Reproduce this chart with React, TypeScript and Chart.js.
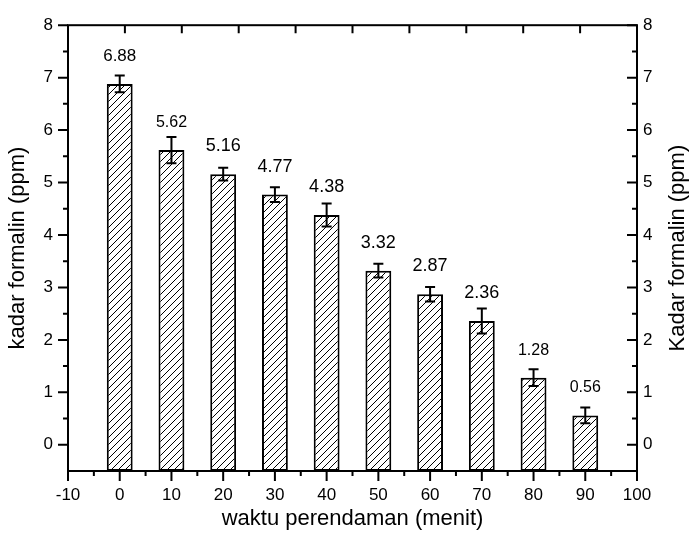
import { useEffect, useRef } from 'react';
import { Chart, registerables } from 'chart.js';

Chart.register(...registerables);

// ---- data ----
const times = [0, 10, 20, 30, 40, 50, 60, 70, 80, 90];
const kadar = [6.88, 5.62, 5.16, 4.77, 4.38, 3.32, 2.87, 2.36, 1.28, 0.56];
const errors = [0.16, 0.25, 0.12, 0.14, 0.22, 0.13, 0.14, 0.24, 0.16, 0.15];
const valueLabels = ['6.88', '5.62', '5.16', '4.77', '4.38', '3.32', '2.87', '2.36', '1.28', '0.56'];
const labelSizes = [17, 16, 18, 18, 18, 18, 18, 18, 16, 16];
const xTicks = [-10, 0, 10, 20, 30, 40, 50, 60, 70, 80, 90, 100];
const xMinorTicks = [-5, 5, 15, 25, 35, 45, 55, 65, 75, 85, 95];
const yTicks = [0, 1, 2, 3, 4, 5, 6, 7, 8];
const yMinorTicks = [0.5, 1.5, 2.5, 3.5, 4.5, 5.5, 6.5, 7.5];
const topTicks = [0, 1, 2, 3, 4, 5, 6, 7, 8, 9, 10];

const X_MIN = -10;
const X_MAX = 100;
const Y_MIN = -0.5;
const Y_MAX = 8;
const LABEL_OFFSET = 0.44;

const FONT = "'Liberation Sans', Arial, sans-serif";
const TITLE_SIZE = 22;
const xTitle = 'waktu perendaman (menit)';
const yTitle = 'kadar formalin (ppm)';
const y2Title = 'Kadar formalin (ppm)';

function makeHatch(): CanvasPattern | string {
  const s = 7;
  const c = document.createElement('canvas');
  c.width = s;
  c.height = s;
  const g = c.getContext('2d');
  if (!g) return '#fff';
  g.fillStyle = '#fff';
  g.fillRect(0, 0, s, s);
  g.strokeStyle = '#000';
  g.lineWidth = 1;
  g.beginPath();
  g.moveTo(0, s);
  g.lineTo(s, 0);
  g.moveTo(-1, 1);
  g.lineTo(1, -1);
  g.moveTo(s - 1, s + 1);
  g.lineTo(s + 1, s - 1);
  g.stroke();
  const p = g.createPattern(c, 'repeat');
  return p || '#fff';
}

const decorPlugin = {
  id: 'decor',
  afterDatasetsDraw(chart: any) {
    const { ctx, chartArea: a, scales } = chart;
    const xs = scales.x;
    const ys = scales.y;
    const x2 = scales.x2;
    ctx.save();
    ctx.strokeStyle = '#000';
    ctx.fillStyle = '#000';
    ctx.lineWidth = 2;

    // error bars
    times.forEach((t, i) => {
      const px = xs.getPixelForValue(t);
      const top = ys.getPixelForValue(kadar[i] + errors[i]);
      const bot = ys.getPixelForValue(kadar[i] - errors[i]);
      ctx.beginPath();
      ctx.moveTo(px, top);
      ctx.lineTo(px, bot);
      ctx.moveTo(px - 5, top);
      ctx.lineTo(px + 5, top);
      ctx.moveTo(px - 5, bot);
      ctx.lineTo(px + 5, bot);
      ctx.stroke();
    });

    // value labels
    ctx.textAlign = 'center';
    ctx.textBaseline = 'alphabetic';
    times.forEach((t, i) => {
      ctx.font = `${labelSizes[i]}px ${FONT}`;
      ctx.fillText(valueLabels[i], xs.getPixelForValue(t), ys.getPixelForValue(kadar[i] + LABEL_OFFSET));
    });

    // frame
    ctx.strokeRect(a.left, a.top, a.right - a.left, a.bottom - a.top);

    ctx.beginPath();
    // left (outward) and right (inward) ticks
    yTicks.forEach((v) => {
      const py = ys.getPixelForValue(v);
      ctx.moveTo(a.left - 10, py);
      ctx.lineTo(a.left, py);
      ctx.moveTo(a.right - 10, py);
      ctx.lineTo(a.right, py);
    });
    yMinorTicks.forEach((v) => {
      const py = ys.getPixelForValue(v);
      ctx.moveTo(a.left - 5, py);
      ctx.lineTo(a.left, py);
      ctx.moveTo(a.right - 5, py);
      ctx.lineTo(a.right, py);
    });
    // bottom ticks (outward)
    xTicks.forEach((v) => {
      const px = xs.getPixelForValue(v);
      ctx.moveTo(px, a.bottom);
      ctx.lineTo(px, a.bottom + 10);
    });
    xMinorTicks.forEach((v) => {
      const px = xs.getPixelForValue(v);
      ctx.moveTo(px, a.bottom);
      ctx.lineTo(px, a.bottom + 5);
    });
    // top ticks (inward)
    topTicks.forEach((v) => {
      const px = x2.getPixelForValue(v);
      ctx.moveTo(px, a.top);
      ctx.lineTo(px, a.top + 8);
    });
    ctx.stroke();

    // right axis title, reading bottom to top
    const y2 = scales.y2;
    ctx.font = `${TITLE_SIZE}px ${FONT}`;
    ctx.textAlign = 'center';
    ctx.textBaseline = 'middle';
    ctx.translate(y2.right - 11, (a.top + a.bottom) / 2);
    ctx.rotate(-Math.PI / 2);
    ctx.fillText(y2Title, 0, 0);
    ctx.restore();
  },
};

export default function App() {
  const ref = useRef<HTMLCanvasElement | null>(null);

  useEffect(() => {
    document.body.style.margin = '0';
    const canvas = ref.current;
    if (!canvas) return;
    const hatch = makeHatch();
    const tickFont = { family: FONT, size: 17 };
    const chart = new Chart(canvas, {
      type: 'bar',
      data: {
        datasets: [
          {
            data: times.map((t, i) => ({ x: t, y: kadar[i] })),
            backgroundColor: hatch as any,
            borderColor: '#000',
            borderWidth: 2,
            borderSkipped: false,
            barPercentage: 0.5,
            categoryPercentage: 1,
            base: Y_MIN,
          } as any,
        ],
      },
      options: {
        responsive: false,
        animation: false,
        events: [],
        layout: { padding: 0 },
        plugins: { legend: { display: false }, tooltip: { enabled: false } },
        scales: {
          x: {
            type: 'linear',
            position: 'bottom',
            min: X_MIN,
            max: X_MAX,
            offset: false,
            grid: { display: false, drawTicks: false, tickLength: 0, offset: false },
            border: { display: false },
            afterBuildTicks: (s: any) => {
              s.ticks = xTicks.map((v) => ({ value: v }));
            },
            afterFit: (s: any) => {
              s.height = 68;
            },
            ticks: { color: '#000', font: tickFont, padding: 14, maxRotation: 0, autoSkip: false },
            title: {
              display: true,
              text: xTitle,
              color: '#000',
              font: { family: FONT, size: TITLE_SIZE },
              padding: { top: 0, bottom: 7 },
            },
          },
          x2: {
            type: 'linear',
            position: 'top',
            min: 0,
            max: 10,
            offset: false,
            grid: { display: false, drawTicks: false, tickLength: 0 },
            border: { display: false },
            ticks: { display: false },
            afterBuildTicks: (s: any) => {
              s.ticks = topTicks.map((v) => ({ value: v }));
            },
            afterFit: (s: any) => {
              s.height = 20;
            },
          },
          y: {
            type: 'linear',
            position: 'left',
            min: Y_MIN,
            max: Y_MAX,
            grid: { display: false, drawTicks: false, tickLength: 0 },
            border: { display: false },
            afterBuildTicks: (s: any) => {
              s.ticks = yTicks.map((v) => ({ value: v }));
            },
            afterFit: (s: any) => {
              s.width = 68;
            },
            ticks: { color: '#000', font: tickFont, padding: 15 },
            title: {
              display: true,
              text: yTitle,
              color: '#000',
              font: { family: FONT, size: TITLE_SIZE },
              padding: { top: 5, bottom: 0 },
            },
          },
          y2: {
            type: 'linear',
            position: 'right',
            min: Y_MIN,
            max: Y_MAX,
            grid: { display: false, drawTicks: false, tickLength: 0 },
            border: { display: false },
            afterBuildTicks: (s: any) => {
              s.ticks = yTicks.map((v) => ({ value: v }));
            },
            afterFit: (s: any) => {
              s.width = 52;
            },
            ticks: { color: '#000', font: tickFont, padding: 6 },
          },
        },
      } as any,
      plugins: [decorPlugin],
    });
    return () => chart.destroy();
  }, []);

  return (
    <div style={{ position: 'fixed', left: 0, top: 0, width: 689, height: 539, background: '#fff' }}>
      <canvas ref={ref} width={689} height={539} style={{ width: 689, height: 539 }} />
    </div>
  );
}
